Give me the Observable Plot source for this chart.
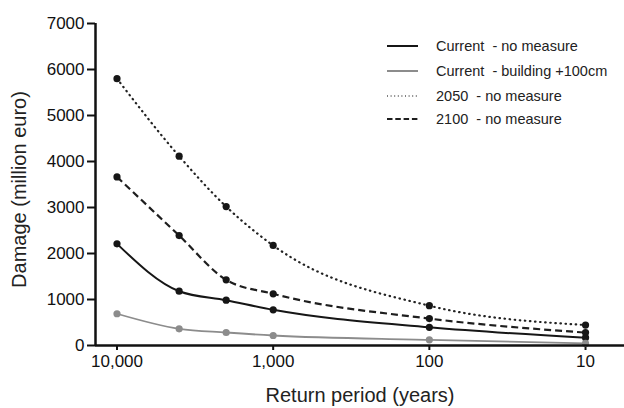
<!DOCTYPE html>
<html>
<head>
<meta charset="utf-8">
<script src="https://cdn.jsdelivr.net/npm/d3@7"></script>
<script src="https://cdn.jsdelivr.net/npm/@observablehq/plot@0.6"></script>
<style>
  html, body { margin: 0; padding: 0; background: #fff; }
  #chart { position: relative; width: 624px; height: 408px; }
  svg { font-family: "Liberation Sans", Arial, Helvetica, sans-serif; }
</style>
</head>
<body>
<div id="chart"></div>
<script>
// Data
const periods = [10000, 4000, 2000, 1000, 100, 10];
const currentNoMeasure = [2210, 1180, 985, 776, 395, 170];
const currentBuilding = [690, 363, 283, 217, 124, 45];
const y2050NoMeasure = [5800, 4115, 3020, 2175, 865, 445];
const y2100NoMeasure = [3665, 2390, 1428, 1124, 585, 280];

const seriesNames = [
  "Current  - no measure",
  "Current  - building +100cm",
  "2050  - no measure",
  "2100  - no measure"
];
const seriesValues = [currentNoMeasure, currentBuilding, y2050NoMeasure, y2100NoMeasure];

const xTicks = [10000, 1000, 100, 10];
const yTicks = [0, 1000, 2000, 3000, 4000, 5000, 6000, 7000];
const xDomain = [13730, 5.63];
const yDomain = [0, 7000];

const styles = [
  {stroke: "#161616", dash: null, width: 2, dot: "#161616", cap: "butt"},
  {stroke: "#8c8c8c", dash: null, width: 1.8, dot: "#8c8c8c", cap: "butt"},
  {stroke: "#222", dash: "0.5,4.6", width: 2.2, dot: "#161616", cap: "round"},
  {stroke: "#1e1e1e", dash: "7,4", width: 2.2, dot: "#161616", cap: "butt"}
];

const data = [];
seriesNames.forEach((name, i) => {
  periods.forEach((p, j) => data.push({series: name, idx: i, period: p, value: seriesValues[i][j]}));
});

const marks = [];
seriesNames.forEach((name, i) => {
  const d = data.filter(r => r.idx === i);
  marks.push(Plot.line(d, {
    x: "period", y: "value", curve: "monotone-x",
    stroke: styles[i].stroke, strokeWidth: styles[i].width,
    strokeDasharray: styles[i].dash, strokeLinecap: styles[i].cap
  }));
});
seriesNames.forEach((name, i) => {
  const d = data.filter(r => r.idx === i);
  marks.push(Plot.dot(d, {x: "period", y: "value", r: 3.6, fill: styles[i].dot, stroke: "none"}));
});

const plot = Plot.plot({
  width: 624,
  height: 408,
  marginLeft: 95,
  marginRight: 0,
  marginTop: 23,
  marginBottom: 63,
  style: {fontFamily: '"Liberation Sans", Arial, sans-serif', background: "#fff", color: "#111"},
  x: {type: "log", domain: xDomain, label: null},
  y: {domain: yDomain, label: null},
  marks: [
    Plot.axisX({ticks: xTicks, tickFormat: d3.format(","), tickSize: 5, tickPadding: 4, fontSize: 17, strokeWidth: 2, label: null}),
    Plot.axisY({ticks: yTicks, tickFormat: d => String(d), tickSize: 8, tickPadding: 3, fontSize: 17, strokeWidth: 2, label: null}),
    ...marks,
    Plot.ruleY([yDomain[0]], {stroke: "#111", strokeWidth: 2.5}),
    Plot.ruleX([xDomain[0]], {stroke: "#111", strokeWidth: 2.5}),
    Plot.text(["Return period (years)"], {frameAnchor: "bottom", dy: 56, fontSize: 20, fill: "#222"}),
    Plot.text(["Damage (million euro)"], {frameAnchor: "left", textAnchor: "middle", dx: -76, dy: 5, rotate: -90, fontSize: 20, fill: "#222"})
  ]
});

document.getElementById("chart").appendChild(plot);

// Legend inside the plot area (top right)
const svg = d3.select(plot);
const lg = svg.append("g").attr("class", "legend").attr("text-anchor", "start");
const legendRows = [46, 71, 96, 119];
seriesNames.forEach((name, i) => {
  const y = legendRows[i];
  lg.append("line")
    .attr("x1", 387).attr("x2", 418).attr("y1", y).attr("y2", y)
    .attr("stroke", i === 2 ? "#555" : styles[i].stroke)
    .attr("stroke-width", i === 2 ? 1.4 : 2)
    .attr("stroke-dasharray", i === 2 ? "1,2.6" : (i === 3 ? "5.5,2.8" : null));
  lg.append("text")
    .attr("x", 436).attr("y", y + 5)
    .attr("font-size", 14.5)
    .attr("fill", "#222")
    .attr("text-anchor", "start")
    .attr("xml:space", "preserve")
    .style("white-space", "pre")
    .text(name);
});
</script>
</body>
</html>
